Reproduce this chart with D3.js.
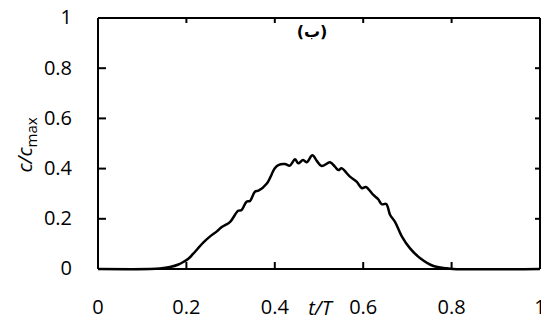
<!DOCTYPE html>
<html>
<head>
<meta charset="utf-8">
<script src="https://cdn.jsdelivr.net/npm/d3@7"></script>
<style>
  body { margin: 0; background: #fff; }
  svg { display: block; }
  .axis text { font-family: "Open Sans", sans-serif; font-size: 20px; fill: #000; }
  .axis path, .axis line { stroke: #000; stroke-width: 2; }
</style>
</head>
<body>
<script>
// t/T sample positions and c/cmax values
var tValues = [0, 0.118, 0.140, 0.163, 0.182, 0.193, 0.205, 0.215, 0.238, 0.253, 0.269, 0.280,
  0.299, 0.317, 0.325, 0.336, 0.344, 0.355, 0.363, 0.382, 0.400, 0.408, 0.423, 0.434, 0.446,
  0.453, 0.464, 0.472, 0.485, 0.495, 0.506, 0.525, 0.536, 0.544, 0.551, 0.570, 0.585, 0.597,
  0.606, 0.623, 0.634, 0.642, 0.652, 0.661, 0.672, 0.687, 0.706, 0.729, 0.759, 0.789, 0.803, 1.0];
var cValues = [0, 0, 0.002, 0.008, 0.018, 0.028, 0.042, 0.060, 0.105, 0.129, 0.150, 0.167,
  0.188, 0.232, 0.235, 0.268, 0.271, 0.308, 0.312, 0.341, 0.401, 0.414, 0.418, 0.412, 0.437,
  0.421, 0.434, 0.425, 0.453, 0.431, 0.410, 0.425, 0.408, 0.394, 0.401, 0.368, 0.348, 0.322,
  0.327, 0.295, 0.278, 0.258, 0.259, 0.215, 0.188, 0.131, 0.082, 0.043, 0.012, 0.003, 0, 0];

var xTicks = [0, 0.2, 0.4, 0.6, 0.8, 1];
var yTicks = [0, 0.2, 0.4, 0.6, 0.8, 1];
var xTickLabels = ["0", "0.2", "0.4", "0.6", "0.8", "1"];
var yTickLabels = ["0", "0.2", "0.4", "0.6", "0.8", "1"];

var margin = { top: 18, right: 1, bottom: 51, left: 98 },
    width = 541 - margin.left - margin.right,
    height = 320 - margin.top - margin.bottom;

var data = tValues.map(function (t, i) { return { t: t, c: cValues[i] }; });

var xScale = d3.scaleLinear().domain([0, 1]).range([0, width]);
var yScale = d3.scaleLinear().domain([0, 1]).range([height, 0]);

var svg = d3.select("body").append("svg")
  .attr("width", 541)
  .attr("height", 320);

var g = svg.append("g")
  .attr("transform", "translate(" + margin.left + "," + margin.top + ")");

// mirrored top and right axes, short ticks, no labels
g.append("g")
  .attr("class", "axis")
  .call(d3.axisTop(xScale).tickValues(xTicks).tickSize(-5).tickSizeOuter(0).offset(0).tickFormat(""));
g.append("g")
  .attr("class", "axis")
  .attr("transform", "translate(" + width + ",0)")
  .call(d3.axisRight(yScale).tickValues(yTicks).tickSize(-5).tickSizeOuter(0).offset(0).tickFormat(""));

// bottom axis
g.append("g")
  .attr("class", "axis")
  .attr("transform", "translate(0," + height + ")")
  .call(d3.axisBottom(xScale).tickValues(xTicks).tickSize(-7).tickSizeOuter(0).offset(0).tickPadding(31)
    .tickFormat(function (d, i) { return xTickLabels[i]; }));

// left axis
g.append("g")
  .attr("class", "axis")
  .call(d3.axisLeft(yScale).tickValues(yTicks).tickSize(-8).tickSizeOuter(0).offset(0).tickPadding(26)
    .tickFormat(function (d, i) { return yTickLabels[i]; }));

// the curve
var line = d3.line()
  .x(function (d) { return xScale(d.t); })
  .y(function (d) { return yScale(d.c); })
  .curve(d3.curveCatmullRom);

g.append("path")
  .datum(data)
  .attr("fill", "none")
  .attr("stroke", "#000")
  .attr("stroke-width", 2.5)
  .attr("stroke-linejoin", "round")
  .attr("d", line);

// panel label
svg.append("text")
  .attr("x", 312)
  .attr("y", 37)
  .attr("text-anchor", "middle")
  .attr("direction", "rtl")
  .style("font-family", "DejaVu Sans, sans-serif")
  .style("font-size", "16px")
  .style("font-weight", "bold")
  .text("(ب)");

// x axis title
svg.append("text")
  .attr("x", 320)
  .attr("y", 315)
  .attr("text-anchor", "middle")
  .style("font-family", "Open Sans, sans-serif")
  .style("font-size", "20px")
  .style("font-style", "italic")
  .text("t/T");

// y axis title
var yt = svg.append("text")
  .attr("transform", "translate(32,145) rotate(-90)")
  .attr("text-anchor", "middle")
  .style("font-family", "Open Sans, sans-serif")
  .style("font-size", "20px");
yt.append("tspan").style("font-style", "italic").text("c/c");
yt.append("tspan").attr("dy", 5).style("font-size", "15px").text("max");
</script>
</body>
</html>
